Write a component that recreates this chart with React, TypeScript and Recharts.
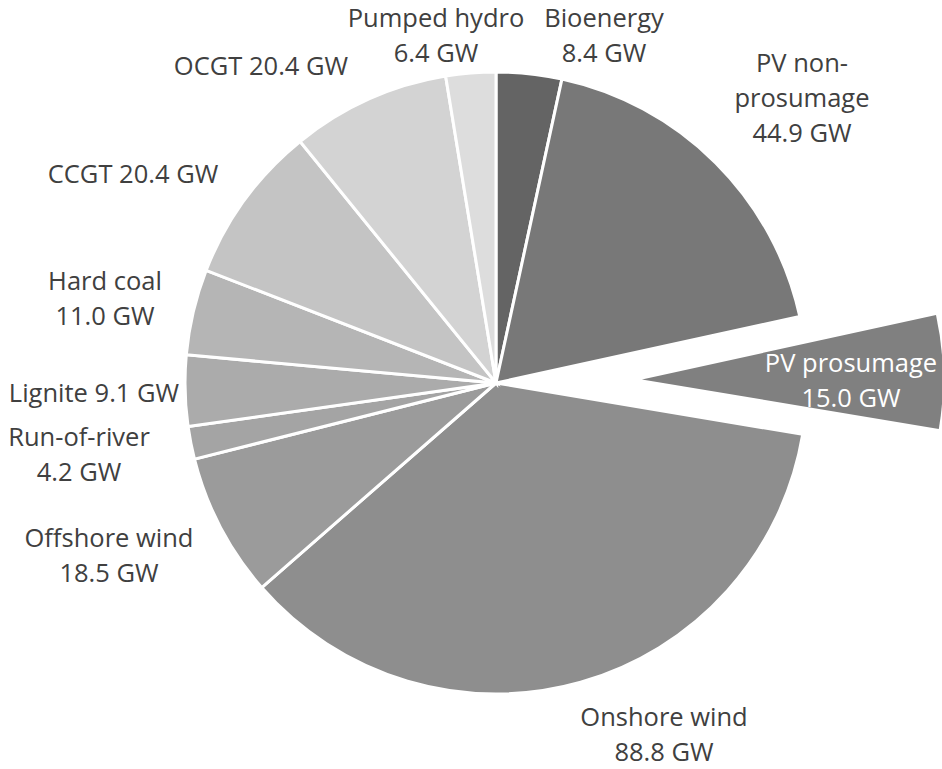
import { PieChart, Pie, Cell } from 'recharts'

// installed capacity by technology, clockwise from 12 o'clock
const NAMES = [
  'Bioenergy', 'PV non-prosumage', 'PV prosumage', 'Onshore wind', 'Offshore wind',
  'Run-of-river', 'Lignite', 'Hard coal', 'CCGT', 'OCGT', 'Pumped hydro',
]
const CAPACITY_GW = [8.4, 44.9, 15.0, 88.8, 18.5, 4.2, 9.1, 11.0, 20.4, 20.4, 6.4]
const COLORS = [
  '#646464', '#787878', '#808080', '#8e8e8e', '#9b9b9b',
  '#a4a4a4', '#ababab', '#b5b5b5', '#c4c4c4', '#d3d3d3', '#dddddd',
]
// how each label name is broken into lines; value goes on a new line unless inline
const NAME_LINES = [
  ['Bioenergy'], ['PV non-', 'prosumage'], ['PV prosumage'], ['Onshore wind'], ['Offshore wind'],
  ['Run-of-river'], ['Lignite'], ['Hard coal'], ['CCGT'], ['OCGT'], ['Pumped hydro'],
]
const VALUE_INLINE = [false, false, false, false, false, false, true, false, true, true, false]
const EXPLODED = 'PV prosumage'

const data = NAMES.map((name, i) => ({ name, value: CAPACITY_GW[i] }))
const explodedIdx = NAMES.indexOf(EXPLODED)

const W = 942
const H = 769
const CX = 496
const CY = 383
const R = 311
const R_EXPLODED = 301
const EXPLODE_OFFSET = 146

// label anchor (centre x, first baseline y)
const LABEL_POS: [number, number][] = [
  [604, 27], [802, 72], [851, 372], [664, 726], [109, 547],
  [79, 446], [94, 402], [105, 290], [133, 183], [261, 75], [436, 27],
]
const LINE_H = 35
const FONT = 25.5

const total = CAPACITY_GW.reduce((a, b) => a + b, 0)
const before = CAPACITY_GW.slice(0, explodedIdx).reduce((a, b) => a + b, 0)
const midTheta = ((before + CAPACITY_GW[explodedIdx] / 2) / total) * Math.PI * 2
const exCx = CX + EXPLODE_OFFSET * Math.sin(midTheta)
const exCy = CY - EXPLODE_OFFSET * Math.cos(midTheta)

const labelLines = (i: number) => {
  const v = `${CAPACITY_GW[i].toFixed(1)} GW`
  const lines = [...NAME_LINES[i]]
  if (VALUE_INLINE[i]) lines[lines.length - 1] += ' ' + v
  else lines.push(v)
  return lines
}

const renderLabel = (p: any) => {
  const i = p.index
  const [x, y] = LABEL_POS[i]
  return (
    <text x={x} y={y} textAnchor="middle" fontSize={FONT} fontFamily="Open Sans"
      fill={i === explodedIdx ? '#ffffff' : '#404040'}>
      {labelLines(i).map((l, k) => (
        <tspan key={k} x={x} dy={k === 0 ? 0 : LINE_H}>{l}</tspan>
      ))}
    </text>
  )
}

export default function App() {
  return (
    <div style={{ position: 'absolute', left: 0, top: 0, width: W, height: H, background: '#fff' }}>
      <PieChart width={W} height={H} margin={{ top: 0, right: 0, bottom: 0, left: 0 }}>
        <Pie data={data} dataKey="value" cx={exCx} cy={exCy} outerRadius={R_EXPLODED}
          startAngle={90} endAngle={-270} stroke="none" isAnimationActive={false} label={false}>
          {data.map((d, i) => (
            <Cell key={d.name} fill={i === explodedIdx ? COLORS[i] : 'transparent'} />
          ))}
        </Pie>
        <Pie data={data} dataKey="value" cx={CX} cy={CY} outerRadius={R}
          startAngle={90} endAngle={-270} isAnimationActive={false}
          label={renderLabel} labelLine={false}>
          {data.map((d, i) => (
            <Cell key={d.name}
              fill={i === explodedIdx ? 'transparent' : COLORS[i]}
              stroke={i === explodedIdx ? 'none' : '#ffffff'} strokeWidth={3} />
          ))}
        </Pie>
      </PieChart>
    </div>
  )
}
